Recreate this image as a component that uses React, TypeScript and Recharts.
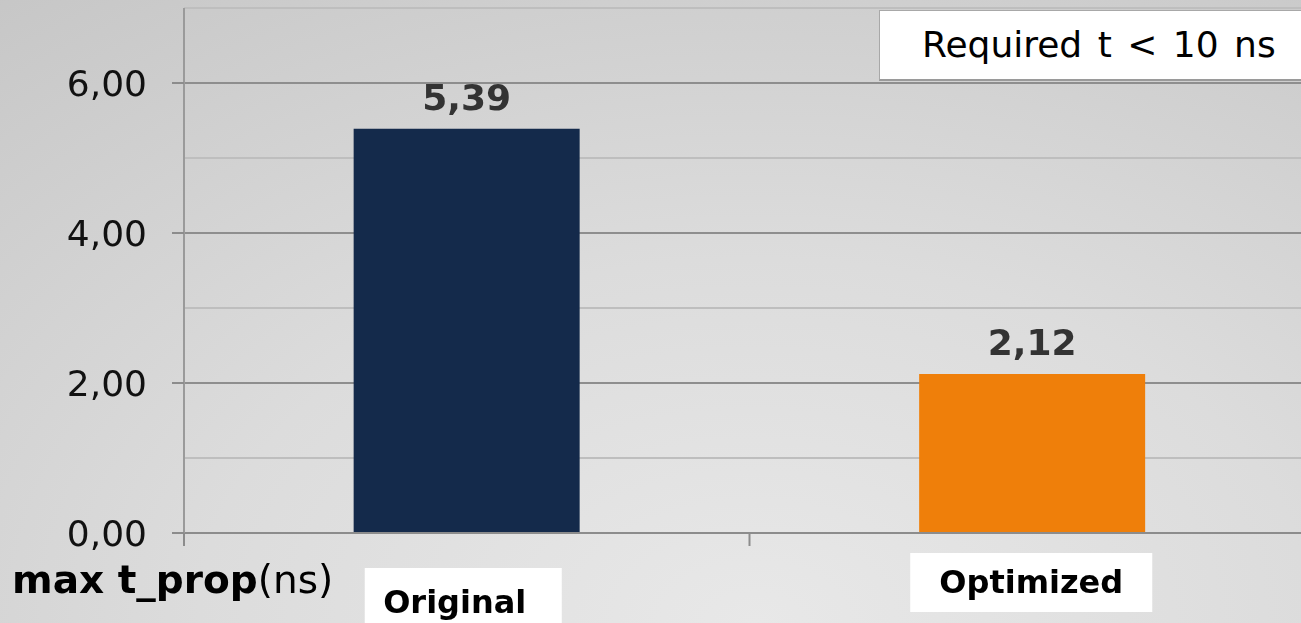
import {
  BarChart,
  Bar,
  Cell,
  XAxis,
  YAxis,
  CartesianGrid,
  LabelList,
  Label,
} from 'recharts';

const categories = ['Original', 'Optimized'];
const propDelays = [5.39, 2.12];
const gridTicks = [0, 1, 2, 3, 4, 5, 6, 7];
const majorTicks = [0, 2, 4, 6];
const barColors = ['#142a4b', '#ef7f0a'];

const data = categories.map((name, i) => ({ name, value: propDelays[i] }));

const FONT = '"DejaVu Sans", Verdana, sans-serif';

const fmt = (v: number) => v.toFixed(2).replace('.', ',');

/** Label box placement per category (the slide has hand-placed text boxes). */
const LABEL_BOXES = [
  { left: -102, right: 95, top: 35, bottom: 100, textDx: -12, baseline: 80 },
  { left: -122, right: 120, top: 20, bottom: 79, textDx: -1, baseline: 60 },
];

function CategoryTick({ x, y, payload, index }: any) {
  const box = LABEL_BOXES[index] ?? LABEL_BOXES[0];
  const edge = x - (payload?.offset ?? 0);
  return (
    <g>
      <line x1={edge} y1={y} x2={edge} y2={y + 13} stroke="#8c8c8c" strokeWidth={2} />
      <rect
        x={x + box.left}
        y={y + box.top}
        width={box.right - box.left}
        height={box.bottom - box.top}
        fill="#ffffff"
      />
      <text
        x={x + box.textDx}
        y={y + box.baseline}
        textAnchor="middle"
        fontFamily={FONT}
        fontWeight="bold"
        fontSize={32}
        fill="#000"
      >
        {payload.value}
      </text>
    </g>
  );
}

// value ticks: only the even values get a label and an outward tick mark
function ValueTick({ x, y, payload }: any) {
  if (!majorTicks.includes(payload.value)) return null;
  return (
    <g>
      <line x1={x + 25} y1={y} x2={x + 37} y2={y} stroke="#8c8c8c" strokeWidth={2} />
      <text
        x={x}
        y={y}
        dy="0.355em"
        textAnchor="end"
        fontFamily={FONT}
        fontSize={36}
        fill="#111"
      >
        {fmt(payload.value)}
      </text>
    </g>
  );
}

function GridLine(props: any) {
  const { x1, x2, y1, y2, index } = props;
  const major = majorTicks.includes(gridTicks[index]);
  return (
    <line
      x1={x1}
      x2={x2}
      y1={y1}
      y2={y2}
      stroke={major ? '#8e8e8e' : '#bebebe'}
      strokeWidth={2}
    />
  );
}

function AxisTitle({ viewBox }: any) {
  const { x, y, height } = viewBox;
  return (
    <text x={x + 12} y={y + height + 60} fontFamily={FONT} fontSize={39} fill="#000">
      <tspan fontWeight="bold">max t_prop</tspan>
      <tspan>(ns)</tspan>
    </text>
  );
}

export default function App() {
  return (
    <div
      style={{
        position: 'fixed',
        left: 0,
        top: 0,
        width: 1301,
        height: 623,
        overflow: 'hidden',
        background:
          'radial-gradient(ellipse 95% 130% at 58% 100%, #e8e8e8 0%, #dcdcdc 45%, #c6c6c6 100%)',
      }}
    >
      <BarChart
        width={1320}
        height={623}
        data={data}
        margin={{ top: 8, right: 5, left: 0, bottom: 0 }}
        barCategoryGap="30%"
      >
        <CartesianGrid vertical={false} horizontal={(p: any) => <GridLine key={p.key} {...p} />} />
        <XAxis
          dataKey="name"
          height={90}
          axisLine={{ stroke: '#8c8c8c', strokeWidth: 2 }}
          tickLine={false}
          tickSize={0}
          tickMargin={0}
          interval={0}
          tick={<CategoryTick />}
        />
        <YAxis
          width={184}
          domain={[0, 7]}
          ticks={gridTicks}
          interval={0}
          tickSize={12}
          tickMargin={25}
          axisLine={{ stroke: '#9a9a9a', strokeWidth: 2 }}
          tickLine={false}
          tick={<ValueTick />}
        >
          <Label content={<AxisTitle />} />
        </YAxis>
        <Bar dataKey="value" isAnimationActive={false}>
          {data.map((_, i) => (
            <Cell key={i} fill={barColors[i]} />
          ))}
          <LabelList
            dataKey="value"
            position="top"
            offset={19}
            formatter={(v: any) => fmt(Number(v))}
            style={{ fill: '#333', fontSize: 36, fontWeight: 'bold', fontFamily: FONT }}
          />
        </Bar>
      </BarChart>
      <div
        style={{
          position: 'absolute',
          left: 879,
          top: 10,
          width: 440,
          height: 71,
          background: '#fff',
          border: '1px solid #a8a8a8',
          borderBottom: '2px solid #9a9a9a',
          boxSizing: 'border-box',
          fontFamily: FONT,
          fontSize: 36,
          wordSpacing: 4,
          color: '#000',
          lineHeight: '68px',
          paddingLeft: 42,
          whiteSpace: 'pre',
        }}
      >
        Required t {'<'} 10 ns
      </div>
    </div>
  );
}
